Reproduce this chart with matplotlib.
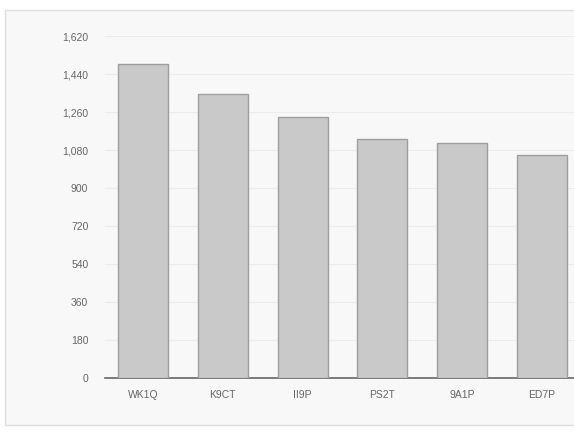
import matplotlib.pyplot as plt
from matplotlib.patches import Rectangle
from matplotlib.ticker import FuncFormatter

plt.rcParams["font.family"] = ["Liberation Sans", "DejaVu Sans"]

calls = ["WK1Q", "K9CT", "II9P", "PS2T", "9A1P", "ED7P"]
qsos = [1487, 1345, 1236, 1132, 1113, 1056]
yticks = [0, 180, 360, 540, 720, 900, 1080, 1260, 1440, 1620]

fig = plt.figure(figsize=(5.74, 4.32), dpi=100)
fig.patch.set_facecolor("white")

# light panel behind the chart
fig.patches.append(Rectangle((5 / 574, 7 / 432), 1.0, 415 / 432, transform=fig.transFigure,
                             facecolor="#f8f8f8", edgecolor="#dddddd", linewidth=1, zorder=-1))

ax = fig.add_axes([105 / 574, 1 - 378 / 432, 1 - 105 / 574, (378 - 36) / 432])
ax.set_zorder(2)
ax.patch.set_alpha(0)

x = list(range(len(calls)))
ax.bar(x, qsos, width=0.625, color="#c9c9c9", edgecolor="#9e9e9e", linewidth=1, zorder=3)

ax.set_xlim(-0.475, 5.4)
ax.set_ylim(0, 1620)
ax.set_yticks(yticks)
ax.yaxis.set_major_formatter(FuncFormatter(lambda v, p: f"{int(v):,}"))
ax.set_xticks(x)
ax.set_xticklabels(calls)

ax.grid(axis="y", color="#ececec", linewidth=0.8, zorder=0)
for s in ["top", "right", "left"]:
    ax.spines[s].set_visible(False)
ax.spines["bottom"].set_color("#666666")
ax.spines["bottom"].set_linewidth(1.2)
ax.tick_params(axis="both", length=0, labelsize=7.5, labelcolor="#666666")
ax.tick_params(axis="y", pad=12)
ax.tick_params(axis="x", pad=9)

plt.savefig("out.png", dpi=100)
